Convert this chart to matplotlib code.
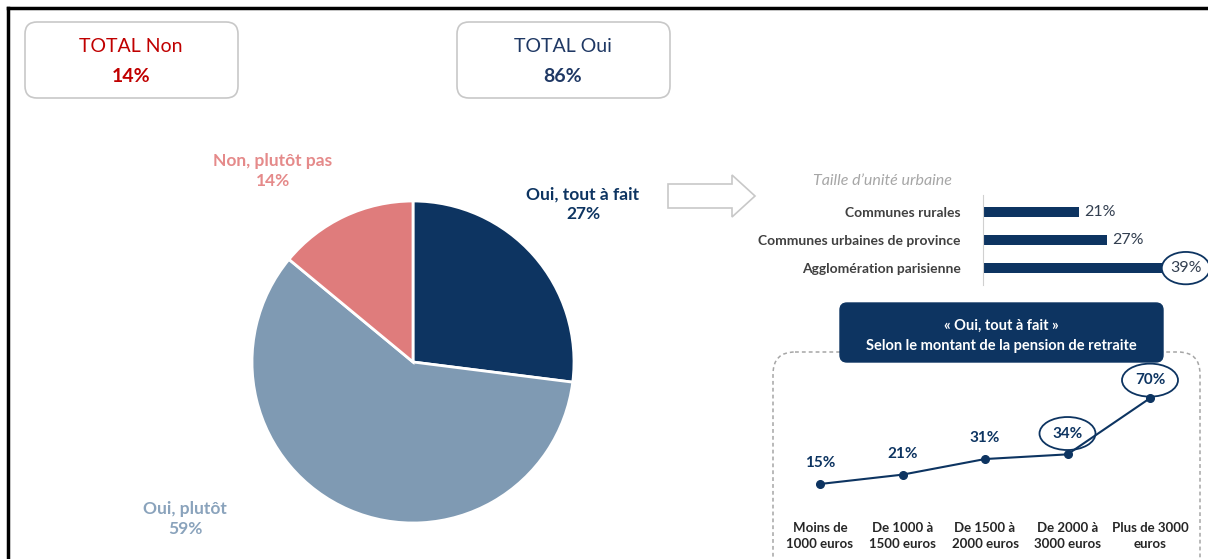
import matplotlib.pyplot as plt
from matplotlib.patches import FancyBboxPatch, Ellipse, Polygon

plt.rcParams['font.family'] = ['Lato', 'DejaVu Sans']

# data
pie_labels = ["Oui, tout à fait", "Oui, plutôt", "Non, plutôt pas"]
pie_values = [27, 59, 14]
total_non = 14
total_oui = 86

urb_labels = ["Communes rurales", "Communes urbaines de province", "Agglomération parisienne"]
urb_values = [21, 27, 39]

pension_labels = ["Moins de\n1000 euros", "De 1000 à\n1500 euros", "De 1500 à\n2000 euros",
                  "De 2000 à\n3000 euros", "Plus de 3000\neuros"]
pension_values = [15, 21, 31, 34, 70]

navy = "#0D3461"
lightblue = "#7F9AB3"
pink = "#DF7C7C"

W, H = 1208, 559
fig = plt.figure(figsize=(W / 100, H / 100), dpi=100)

# overlay in pixel coordinates for boxes, arrow, frame
ov = fig.add_axes([0, 0, 1, 1])
ov.set_xlim(0, W)
ov.set_ylim(H, 0)
ov.axis("off")

ov.plot([8, 8], [8, H], color="black", lw=2.5)
ov.plot([8, W], [8, 8], color="black", lw=2.5)

for x0, title, val, col in [(25, "TOTAL Non", total_non, "#C00000"),
                            (457, "TOTAL Oui", total_oui, "#1F3864")]:
    ov.add_patch(FancyBboxPatch((x0, 22), 213, 76, boxstyle="round,pad=0,rounding_size=12",
                                fc="white", ec="#C8C8C8", lw=1.2))
    ov.text(x0 + 106, 47, title, color=col, fontsize=14, ha="center", va="center")
    ov.text(x0 + 106, 76, "%d%%" % val, color=col, fontsize=14, fontweight="bold",
            ha="center", va="center")

# hollow arrow
ov.add_patch(Polygon([(668, 184), (732, 184), (732, 175), (755, 196), (732, 217),
                      (732, 208), (668, 208)], closed=True, fc="white", ec="#C8C8C8", lw=1.2))

# pie labels
ov.text(273, 171, "Non, plutôt pas\n14%", color="#E58A8A", fontsize=12.5, fontweight="bold",
        ha="center", va="center", linespacing=1.3)
ov.text(583, 204, "Oui, tout à fait\n27%", color=navy, fontsize=12.5, fontweight="bold",
        ha="center", va="center", linespacing=1.3)
ov.text(185, 519, "Oui, plutôt\n59%", color="#8AA3BC", fontsize=12.5, fontweight="bold",
        ha="center", va="center", linespacing=1.3)

# dashed box + title box for the pension chart
ov.add_patch(FancyBboxPatch((773, 352), 427, 230, boxstyle="round,pad=0,rounding_size=22",
                            fc="none", ec="#A6A6A6", lw=1.1, ls=(0, (2.5, 2))))
ov.add_patch(FancyBboxPatch((840, 303), 323, 59, boxstyle="round,pad=0,rounding_size=7",
                            fc=navy, ec=navy, zorder=3))
ov.text(1001, 326, "« Oui, tout à fait »", color="white", fontsize=10.5, fontweight="bold",
        ha="center", va="center", zorder=4)
ov.text(1001, 346, "Selon le montant de la pension de retraite", color="white", fontsize=10.5,
        fontweight="bold", ha="center", va="center", zorder=4)

ov.text(882, 181, "Taille d’unité urbaine", color="#A6A6A6", fontsize=11.5, style="italic",
        ha="center", va="center")

# pie
cx, cy, r = 413, 362, 161
axp = fig.add_axes([(cx - r) / W, (H - cy - r) / H, 2 * r / W, 2 * r / H])
axp.pie(pie_values, colors=[navy, lightblue, pink], startangle=90, counterclock=False,
        wedgeprops=dict(edgecolor="white", linewidth=2))
axp.set_xlim(-1, 1)
axp.set_ylim(-1, 1)

# urban bars
axb = fig.add_axes([983 / W, (H - 285) / H, 206 / W, 90 / H])
axb.barh(range(len(urb_values)), urb_values, height=0.36, color=navy)
axb.set_xlim(0, 45)
axb.set_ylim(2.6, -0.6)
for s in ["top", "right", "bottom"]:
    axb.spines[s].set_visible(False)
axb.spines["left"].set_color("#D0D0D0")
axb.set_xticks([])
axb.set_yticks(range(len(urb_labels)))
axb.set_yticklabels(urb_labels, fontsize=10, fontweight="bold", color="#404040")
axb.tick_params(axis="y", length=0, pad=16)
axb.patch.set_alpha(0)
for i, v in enumerate(urb_values):
    if i == len(urb_values) - 1:
        axb.add_patch(Ellipse((v + 5.3, i), 10.5, 1.15, fc="white", ec=navy, lw=1.3, zorder=3,
                              clip_on=False))
        axb.text(v + 5.3, i, "%d%%" % v, fontsize=11.5, color="#333F50", ha="center",
                 va="center", zorder=4)
    else:
        axb.text(v + 1.2, i, "%d%%" % v, fontsize=11.5, color="#333F50", ha="left", va="center")

# pension line
xs = range(len(pension_values))
axl = fig.add_axes([770.5 / W, (H - 507.4) / H, 429 / W, 124.8 / H])
axl.plot(xs, pension_values, color=navy, lw=1.5, marker="o", ms=5.5)
axl.set_xlim(-0.6, 4.6)
axl.set_ylim(0, 80)
axl.axis("off")
axl.patch.set_alpha(0)
for i, v in enumerate(pension_values):
    dy = 15 if v < 40 else 13
    axl.annotate("%d%%" % v, (i, v), xytext=(0, dy), textcoords="offset points",
                 ha="center", va="center", fontsize=11, fontweight="bold", color=navy)
    if i >= 3:
        # ellipse around the highlighted labels, in pixel space of the overlay
        px = 770.5 + (i + 0.6) * 82.5
        py = 507.4 - v * 1.56 - dy * 100 / 72
        ov.add_patch(Ellipse((px, py), 56, 33, fc="none", ec=navy, lw=1.3))
for i, lab in enumerate(pension_labels):
    ov.text(770.5 + (i + 0.6) * 82.5, 536, lab, fontsize=9.5, fontweight="bold", color="#262626",
            ha="center", va="center", linespacing=1.35)

fig.savefig("out.png", dpi=100)
